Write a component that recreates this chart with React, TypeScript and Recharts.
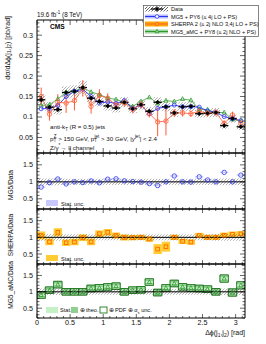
import React from 'react';
import { ComposedChart, XAxis, YAxis, Line, Scatter, ErrorBar, ReferenceArea, ReferenceLine } from 'recharts';

// ---------- data ----------
const binEdges = [0, 0.1257, 0.2513, 0.377, 0.5027, 0.6283, 0.754, 0.8796, 1.0053, 1.131, 1.2566, 1.3823, 1.508, 1.6336, 1.7593, 1.885, 2.0106, 2.1363, 2.2619, 2.3876, 2.5133, 2.6389, 2.7646, 2.8903, 3.0159, 3.1416];
const dataXsec = [0.142, 0.124, 0.118, 0.160, 0.163, 0.172, 0.146, 0.138, 0.127, 0.122, 0.136, 0.120, 0.130, 0.114, 0.136, 0.125, 0.110, 0.125, 0.126, 0.108, 0.109, 0.111, 0.079, 0.096, 0.076];
const dataStatErr = [0.006, 0.005, 0.005, 0.006, 0.006, 0.006, 0.005, 0.005, 0.005, 0.005, 0.005, 0.005, 0.005, 0.005, 0.005, 0.005, 0.005, 0.005, 0.005, 0.005, 0.005, 0.005, 0.005, 0.005, 0.005];
const dataSystRel = [0.10, 0.10, 0.10, 0.09, 0.09, 0.09, 0.09, 0.09, 0.09, 0.09, 0.09, 0.09, 0.09, 0.09, 0.09, 0.09, 0.09, 0.09, 0.09, 0.09, 0.09, 0.10, 0.10, 0.10, 0.10];
const mg5Xsec = [0.120, 0.121, 0.128, 0.150, 0.163, 0.168, 0.150, 0.134, 0.137, 0.133, 0.140, 0.121, 0.129, 0.108, 0.121, 0.125, 0.129, 0.125, 0.125, 0.124, 0.115, 0.111, 0.101, 0.096, 0.091];
const mg5StatRel = [0.02, 0.02, 0.02, 0.02, 0.02, 0.02, 0.02, 0.02, 0.02, 0.02, 0.02, 0.02, 0.02, 0.02, 0.02, 0.02, 0.02, 0.02, 0.02, 0.02, 0.02, 0.02, 0.02, 0.02, 0.02];
const sherpaXsec = [0.150, 0.107, 0.136, 0.134, 0.140, 0.170, 0.126, 0.153, 0.146, 0.129, 0.135, 0.119, 0.130, 0.108, 0.088, 0.090, 0.110, 0.110, 0.108, 0.114, 0.109, 0.111, 0.084, 0.105, 0.084];
const sherpaErr = [0.022, 0.016, 0.020, 0.024, 0.024, 0.020, 0.018, 0.015, 0.012, 0.010, 0.010, 0.010, 0.009, 0.009, 0.035, 0.035, 0.009, 0.009, 0.008, 0.008, 0.008, 0.008, 0.008, 0.008, 0.008];
const sherpaStatRel = [0.12, 0.10, 0.12, 0.10, 0.10, 0.10, 0.10, 0.10, 0.10, 0.09, 0.09, 0.08, 0.08, 0.08, 0.15, 0.15, 0.08, 0.08, 0.08, 0.08, 0.08, 0.08, 0.08, 0.08, 0.08];
const amcXsec = [0.128, 0.130, 0.144, 0.160, 0.163, 0.172, 0.161, 0.155, 0.146, 0.143, 0.136, 0.126, 0.138, 0.148, 0.133, 0.140, 0.138, 0.144, 0.141, 0.119, 0.118, 0.111, 0.111, 0.094, 0.091];
const amcStatRel = [0.03, 0.03, 0.03, 0.03, 0.03, 0.03, 0.03, 0.03, 0.03, 0.03, 0.03, 0.03, 0.03, 0.03, 0.03, 0.03, 0.03, 0.03, 0.03, 0.03, 0.03, 0.03, 0.04, 0.04, 0.04];
const amcTheoRel = [0.08, 0.08, 0.08, 0.08, 0.08, 0.08, 0.08, 0.08, 0.08, 0.08, 0.08, 0.08, 0.08, 0.08, 0.08, 0.08, 0.08, 0.08, 0.08, 0.08, 0.08, 0.08, 0.09, 0.09, 0.09];
const amcTotRel = [0.10, 0.10, 0.10, 0.10, 0.10, 0.10, 0.10, 0.10, 0.10, 0.10, 0.10, 0.10, 0.10, 0.10, 0.10, 0.10, 0.10, 0.10, 0.10, 0.10, 0.10, 0.10, 0.11, 0.11, 0.11];

const xMajorTicks = [0, 0.5, 1, 1.5, 2, 2.5, 3];
const topYMajorTicks = [0.05, 0.1, 0.15, 0.2, 0.25, 0.3];
const ratioYMajorTicks = [0.5, 1, 1.5];

// ---------- layout ----------
const FONT = "'Liberation Sans', Arial, Helvetica, sans-serif";
const W = 266;
const H = 344;
const PL = 37;
const PR = 245;
const X_DOMAIN: [number, number] = [0, Math.PI];
const TOP_DOMAIN: [number, number] = [0.012, 0.337];
const RATIO_DOMAIN: [number, number] = [0.2, 1.85];

const rows = dataXsec.map((d, i) => {
  const lo = binEdges[i];
  const hi = binEdges[i + 1];
  return {
    i,
    lo,
    hi,
    x: (lo + hi) / 2,
    xErr: (hi - lo) / 2,
    data: d,
    dataErr: dataStatErr[i],
    mg5: mg5Xsec[i],
    sherpa: sherpaXsec[i],
    sherpaErr: sherpaErr[i],
    amc: amcXsec[i],
    mg5r: mg5Xsec[i] / d,
    sherpar: sherpaXsec[i] / d,
    amcr: amcXsec[i] / d,
  };
});

const round = (v: number) => Math.round(v * 10000) / 10000;
function makeTicks(min: number, max: number, step: number) {
  const out: number[] = [];
  for (let v = Math.ceil(min / step - 1e-9) * step; v <= max + 1e-9; v += step) out.push(round(v));
  return out;
}
const isMajor = (v: number, majors: number[]) => majors.some((m) => Math.abs(m - v) < 1e-6);

function makeXTick(ph: number, showLabels: boolean, majLen: number, minLen: number) {
  return (props: any) => {
    const { x, y, payload } = props;
    const v = payload.value;
    const major = isMajor(v, xMajorTicks);
    const len = major ? majLen : minLen;
    return (
      <g>
        <line x1={x} x2={x} y1={y} y2={y - len} stroke="#000" strokeWidth={0.6} />
        <line x1={x} x2={x} y1={y - ph} y2={y - ph + len} stroke="#000" strokeWidth={0.6} />
        {showLabels && major ? (
          <text x={x} y={y + 7} textAnchor="middle" fontSize={7.2} fontFamily={FONT} fill="#111">
            {String(v)}
          </text>
        ) : null}
      </g>
    );
  };
}

function makeYTick(pw: number, majors: number[], majLen: number, minLen: number) {
  return (props: any) => {
    const { x, y, payload } = props;
    const v = payload.value;
    const major = isMajor(v, majors);
    const len = major ? majLen : minLen;
    return (
      <g>
        <line x1={x} x2={x + len} y1={y} y2={y} stroke="#000" strokeWidth={0.6} />
        <line x1={x + pw} x2={x + pw - len} y1={y} y2={y} stroke="#000" strokeWidth={0.6} />
        {major ? (
          <text x={x - 4} y={y + 2.5} textAnchor="end" fontSize={7.2} fontFamily={FONT} fill="#111">
            {String(v)}
          </text>
        ) : null}
      </g>
    );
  };
}

const openCircle = (color: string, r: number) => (p: any) =>
  p.cx == null ? <g key={p.index} /> : <circle key={p.index} cx={p.cx} cy={p.cy} r={r} fill="none" stroke={color} strokeWidth={0.8} />;
const openSquare = (color: string, s: number) => (p: any) =>
  p.cx == null ? <g key={p.index} /> : <rect key={p.index} x={p.cx - s / 2} y={p.cy - s / 2} width={s} height={s} fill="none" stroke={color} strokeWidth={0.9} />;
const openTriangle = (color: string, s: number) => (p: any) =>
  p.cx == null ? (
    <g key={p.index} />
  ) : (
    <path key={p.index} d={`M${p.cx},${p.cy - s} L${p.cx + s * 0.9},${p.cy + s * 0.65} L${p.cx - s * 0.9},${p.cy + s * 0.65} Z`} fill="none" stroke={color} strokeWidth={0.8} />
  );
const dataDot = (p: any) => (p.cx == null ? <g /> : <circle cx={p.cx} cy={p.cy} r={1.8} fill="#000" />);

type PanelProps = {
  top: number;
  bottom: number;
  domain: [number, number];
  yMajors: number[];
  yStep: number;
  showXLabels: boolean;
  children: React.ReactNode;
};

function Panel({ top, bottom, domain, yMajors, yStep, showXLabels, children }: PanelProps) {
  const ph = bottom - top;
  const pw = PR - PL;
  const xTicks = makeTicks(0, 3.1, 0.1);
  const yTicks = makeTicks(domain[0], domain[1], yStep);
  return (
    <div style={{ position: 'absolute', left: 0, top: 0 }}>
      <ComposedChart width={W} height={H} data={rows} margin={{ top, bottom: H - bottom - 1, left: PL - 1, right: W - PR }}>
        <XAxis
          dataKey="x"
          type="number"
          domain={X_DOMAIN}
          allowDataOverflow
          ticks={xTicks}
          interval={0}
          height={1}
          tickSize={0}
          tickMargin={0}
          axisLine={false}
          tickLine={false}
          tick={makeXTick(ph, showXLabels, ph > 80 ? 5 : 4, ph > 80 ? 2.5 : 2)}
        />
        <YAxis
          type="number"
          domain={domain}
          allowDataOverflow
          ticks={yTicks}
          interval={0}
          width={1}
          tickSize={0}
          tickMargin={0}
          axisLine={false}
          tickLine={false}
          tick={makeYTick(pw, yMajors, 5, 2.5)}
        />
        {children}
        <ReferenceArea x1={X_DOMAIN[0]} x2={X_DOMAIN[1]} y1={domain[0]} y2={domain[1]} fill="none" stroke="#000" strokeWidth={1} ifOverflow="visible" />
      </ComposedChart>
    </div>
  );
}

function hatchBoxes(center: (r: any) => number, rel: number[], keyp: string) {
  return rows.map((r) => (
    <ReferenceArea
      key={keyp + r.i}
      x1={r.lo}
      x2={r.hi}
      y1={center(r) * (1 - rel[r.i])}
      y2={center(r) * (1 + rel[r.i])}
      fill="url(#hatchD)"
      stroke="none"
      ifOverflow="hidden"
    />
  ));
}

function boxes(valKey: string, rel: number[], fill: string, keyp: string, stroke = 'none') {
  return rows.map((r: any) => {
    const v = r[valKey];
    const h = rel[r.i];
    return (
      <ReferenceArea key={keyp + r.i} x1={r.lo} x2={r.hi} y1={v - h} y2={v + h} fill={fill} fillOpacity={1} stroke={stroke} strokeWidth={0.8} ifOverflow="hidden" />
    );
  });
}

const C_MG5 = '#2a35f0';
const C_SH = '#ff5a36';
const C_SH_BOX = '#ffcc33';
const C_SH_MK = '#ff6a00';
const C_AMC = '#2e9a2e';

export default function App() {
  return (
    <div style={{ position: 'absolute', left: 0, top: 0, width: W, height: H, background: '#fff', overflow: 'hidden' }}>
      <svg width={0} height={0} style={{ position: 'absolute' }}>
        <defs>
          <pattern id="hatchD" patternUnits="userSpaceOnUse" width={3} height={3}>
            <path d="M0,3 L3,0 M-0.75,0.75 L0.75,-0.75 M2.25,3.75 L3.75,2.25" stroke="#222" strokeWidth={0.7} />
          </pattern>
        </defs>
      </svg>

      {/* top panel */}
      <Panel top={20} bottom={153} domain={TOP_DOMAIN} yMajors={topYMajorTicks} yStep={0.01} showXLabels={false}>
        {hatchBoxes((r) => r.data, dataSystRel, 'th')}
        <Line dataKey="amc" stroke="#55aa55" strokeWidth={0.9} dot={openTriangle(C_AMC, 2.3)} isAnimationActive={false} />
        <Line dataKey="mg5" stroke={C_MG5} strokeWidth={0.9} dot={openCircle(C_MG5, 2)} isAnimationActive={false} />
        <Line dataKey="sherpa" stroke={C_SH} strokeWidth={0.8} dot={false} isAnimationActive={false} />
        <Scatter dataKey="sherpa" shape={openCircle(C_SH, 2.2)} isAnimationActive={false}>
          <ErrorBar dataKey="sherpaErr" direction="y" width={0} stroke={C_SH} strokeWidth={1} />
        </Scatter>
        <Scatter dataKey="data" shape={dataDot} isAnimationActive={false}>
          <ErrorBar dataKey="dataErr" direction="y" width={0} stroke="#000" strokeWidth={1.3} />
          <ErrorBar dataKey="xErr" direction="x" width={0} stroke="#000" strokeWidth={1.3} />
        </Scatter>
      </Panel>

      {/* MG5 / Data */}
      <Panel top={153} bottom={209} domain={RATIO_DOMAIN} yMajors={ratioYMajorTicks} yStep={0.1} showXLabels={false}>
        {boxes('mg5r', mg5StatRel, '#c8c8ff', 'm')}
        {hatchBoxes(() => 1, dataSystRel, 'h1')}
        <ReferenceLine y={1} stroke="#000" strokeWidth={1} />
        <Scatter dataKey="mg5r" shape={openCircle(C_MG5, 2.2)} isAnimationActive={false} />
      </Panel>

      {/* SHERPA / Data */}
      <Panel top={209} bottom={264} domain={RATIO_DOMAIN} yMajors={ratioYMajorTicks} yStep={0.1} showXLabels={false}>
        {boxes('sherpar', sherpaStatRel, C_SH_BOX, 's')}
        {hatchBoxes(() => 1, dataSystRel, 'h2')}
        <ReferenceLine y={1} stroke="#000" strokeWidth={1} />
        <Scatter dataKey="sherpar" shape={openSquare(C_SH_MK, 3.6)} isAnimationActive={false} />
      </Panel>

      {/* MG5_aMC / Data */}
      <Panel top={264} bottom={318} domain={RATIO_DOMAIN} yMajors={ratioYMajorTicks} yStep={0.1} showXLabels={true}>
        {boxes('amcr', amcTotRel, '#ffffff', 'at', '#1f7a1f')}
        {boxes('amcr', amcTheoRel, '#8fcf8f', 'ath')}
        {boxes('amcr', amcStatRel, '#c6f0c6', 'ast')}
        {boxes('amcr', amcTotRel, 'none', 'ao', '#1f7a1f')}
        {hatchBoxes(() => 1, dataSystRel, 'h3')}
        <ReferenceLine y={1} stroke="#000" strokeWidth={1} />
        <Scatter dataKey="amcr" shape={openTriangle(C_AMC, 2.3)} isAnimationActive={false} />
      </Panel>

      {/* text overlay */}
      <svg width={W} height={H} style={{ position: 'absolute', left: 0, top: 0, pointerEvents: 'none' }} fontFamily={FONT}>
        <text x={37} y={16.5} fontSize={6.3} fill="#111">
          19.6 fb<tspan dy={-2.5} fontSize={4.5}>-1</tspan>
          <tspan dy={2.5}> (8 TeV)</tspan>
        </text>
        <text x={50} y={29} fontSize={6.6} fontWeight="bold" fill="#000">CMS</text>

        <text transform="translate(9.5,16) rotate(-90)" textAnchor="end" fontSize={7} fill="#111">
          dσ/dΔϕ(j<tspan dy={1.5} fontSize={5}>1</tspan>
          <tspan dy={-1.5}>,j</tspan>
          <tspan dy={1.5} fontSize={5}>2</tspan>
          <tspan dy={-1.5}>) [pb/rad]</tspan>
        </text>
        <text transform="translate(12.5,185) rotate(-90)" textAnchor="middle" fontSize={6.6} fill="#111">MG5/Data</text>
        <text transform="translate(12.5,235) rotate(-90)" textAnchor="middle" fontSize={6.6} fill="#111">SHERPA/Data</text>
        <text transform="translate(12.5,285) rotate(-90)" textAnchor="middle" fontSize={6.6} fill="#111">MG5_aMC/Data</text>

        <text x={50} y={129} fontSize={6.2} fill="#111">
          anti-k<tspan dy={1.5} fontSize={4.5}>T</tspan>
          <tspan dy={-1.5}> (R = 0.5) jets</tspan>
        </text>
        <text x={50} y={140.5} fontSize={6.2} fill="#111">
          p<tspan dy={1.5} fontSize={4.5}>T</tspan>
          <tspan dx={-2.5} dy={-4} fontSize={4.5}>Z</tspan>
          <tspan dy={2.5}> &gt; 150 GeV, p</tspan>
          <tspan dy={1.5} fontSize={4.5}>T</tspan>
          <tspan dx={-2.5} dy={-4} fontSize={4.5}>jet</tspan>
          <tspan dy={2.5}> &gt; 30 GeV, |y</tspan>
          <tspan dy={-2.5} fontSize={4.5}>jet</tspan>
          <tspan dy={2.5}>| &lt; 2.4</tspan>
        </text>
        <text x={50} y={149.5} fontSize={6.2} fill="#111">
          Z/γ<tspan dy={-2.5} fontSize={4.5}>*</tspan>
          <tspan dy={2.5}>→ ll channel</tspan>
        </text>

        <rect x={46} y={200} width={12} height={6} fill="#c8c8ff" />
        <text x={61} y={205.5} fontSize={5.6} fill="#111">Stat. unc.</text>
        <rect x={46} y={255} width={12} height={6} fill={C_SH_BOX} />
        <text x={61} y={260.5} fontSize={5.6} fill="#111">Stat. unc.</text>
        <rect x={46} y={307} width={12} height={6} fill="#c6f0c6" />
        <text x={60} y={312.3} fontSize={5.6} fill="#111">Stat.</text>
        <rect x={71} y={307} width={7} height={6} fill="#8fcf8f" />
        <text x={79.5} y={312.3} fontSize={5.6} fill="#111">⊕ theo.</text>
        <rect x={100} y={307} width={7} height={6} fill="#fff" stroke="#1f7a1f" strokeWidth={0.9} />
        <text x={108.5} y={312.3} fontSize={5.6} fill="#111">
          ⊕ PDF ⊕ α<tspan dy={1.2} fontSize={4}>s</tspan>
          <tspan dy={-1.2}> unc.</tspan>
        </text>

        <text x={245} y={335} textAnchor="end" fontSize={7} fill="#111">
          Δϕ(j<tspan dy={1.5} fontSize={5}>1</tspan>
          <tspan dy={-1.5}>,j</tspan>
          <tspan dy={1.5} fontSize={5}>2</tspan>
          <tspan dy={-1.5}>) [rad]</tspan>
        </text>
      </svg>

      {/* legend */}
      <svg width={116} height={32} style={{ position: 'absolute', left: 143, top: 5 }} fontFamily={FONT}>
        <rect x={0.5} y={0.5} width={115} height={31} fill="#fff" stroke="#666" strokeWidth={0.8} />
        <rect x={2} y={1.5} width={23} height={5} fill="url(#hatchD)" />
        <line x1={8} x2={20} y1={4} y2={4} stroke="#000" strokeWidth={1.2} />
        <line x1={14} x2={14} y1={1.5} y2={6.5} stroke="#000" strokeWidth={1.2} />
        <circle cx={14} cy={4} r={1.6} fill="#000" />
        <text x={28} y={6} fontSize={5.6} fill="#111">Data</text>
        <rect x={2} y={9.5} width={23} height={4} fill="#b8bcff" />
        <line x1={2} x2={25} y1={11.5} y2={11.5} stroke={C_MG5} strokeWidth={1} />
        <circle cx={14} cy={11.5} r={1.8} fill="#fff" stroke={C_MG5} strokeWidth={0.8} />
        <text x={28} y={13.5} fontSize={5.6} fill="#111">MG5 + PY6 (≤ 4j LO + PS)</text>
        <rect x={2} y={16.5} width={23} height={5} fill="#ffaa00" />
        <line x1={2} x2={25} y1={19} y2={19} stroke={C_SH} strokeWidth={1} />
        <circle cx={14} cy={19} r={1.8} fill="#ffaa00" stroke={C_SH} strokeWidth={0.8} />
        <text x={28} y={21} fontSize={5.6} fill="#111">SHERPA 2 (≤ 2j NLO 3,4j LO + PS)</text>
        <rect x={2} y={24.5} width={23} height={4} fill="#9fd49f" />
        <line x1={2} x2={25} y1={26.5} y2={26.5} stroke={C_AMC} strokeWidth={1} />
        <path d="M14,24.3 L16,27.8 L12,27.8 Z" fill="#9fd49f" stroke={C_AMC} strokeWidth={0.8} />
        <text x={28} y={28.5} fontSize={5.6} fill="#111">MG5_aMC + PY8 (≤ 2j NLO + PS)</text>
      </svg>
    </div>
  );
}
